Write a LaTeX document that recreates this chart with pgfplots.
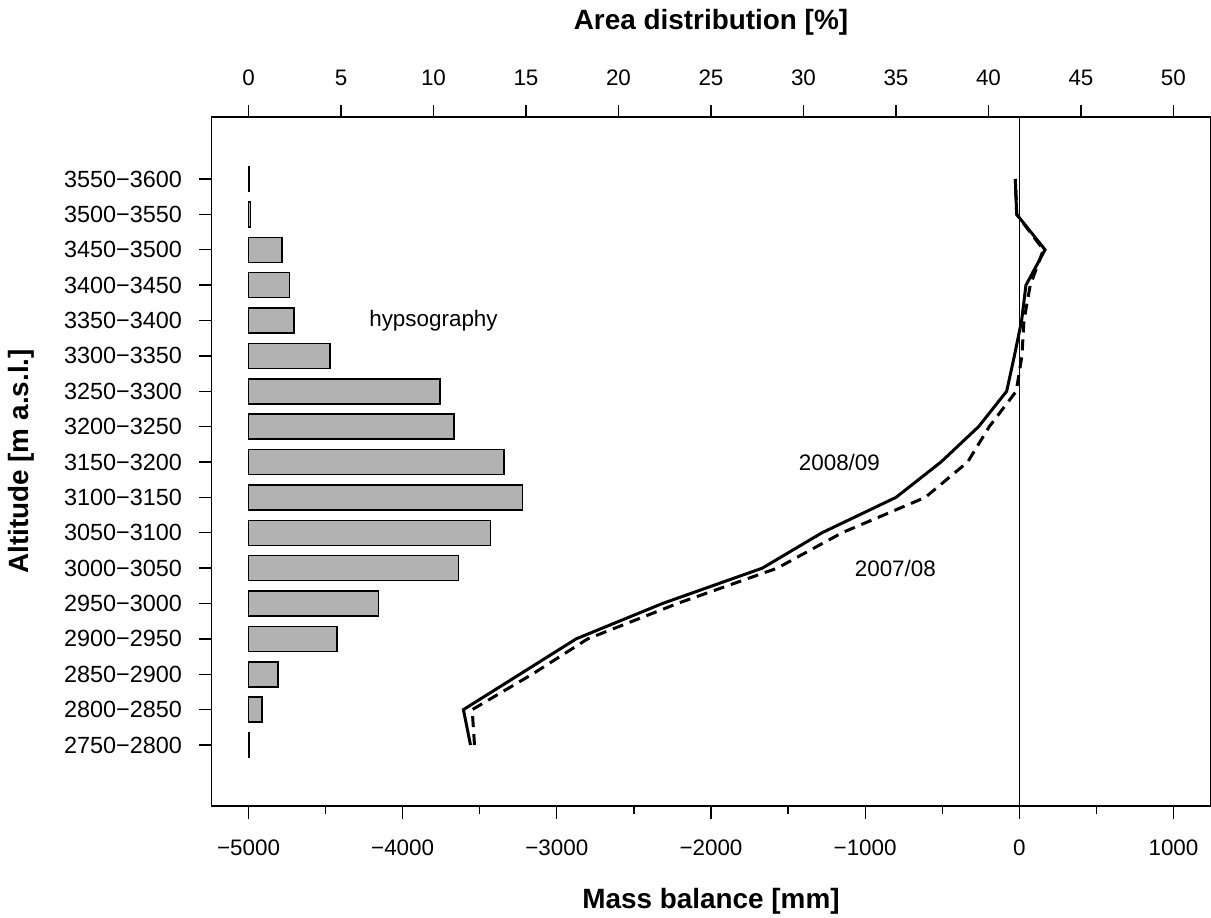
\documentclass[border=0pt]{standalone}
\usepackage{pgfplots}
\pgfplotsset{compat=1.18}
\usepackage{fontspec}
\setmainfont{Liberation Sans}
\definecolor{barGray}{gray}{0.70}
\newcommand{\tickfont}{\fontsize{22.5}{27}\selectfont}
\newcommand{\ytickfont}{\fontsize{23.5}{28}\selectfont}
\newcommand{\labfont}{\fontsize{28}{33}\selectfont\bfseries}
\begin{document}
\begin{tikzpicture}
\useasboundingbox (0,0) rectangle (1211bp,918bp);
% ---------- area distribution (bars, top axis) ----------
\begin{axis}[
  at={(211.5bp,112bp)}, anchor=south west,
  width=999bp, height=689bp, scale only axis,
  xmin=-2, xmax=52, ymin=-1.724, ymax=17.753,
  xbar, bar width=25bp,
  xtick={0,5,...,50},
  xticklabels={0,5,10,15,20,25,30,35,40,45,50},
  xtick pos=top, xticklabel pos=top,
  ytick={0,...,16},
  yticklabels={2750−2800,2800−2850,2850−2900,2900−2950,2950−3000,3000−3050,3050−3100,3100−3150,3150−3200,3200−3250,3250−3300,3300−3350,3350−3400,3400−3450,3450−3500,3500−3550,3550−3600},
  ytick pos=left,
  tick align=outside, major tick length=12bp,
  axis line style={line width=1.3bp},
  every tick/.style={black, line width=1.3bp},
  xticklabel style={font=\tickfont, yshift=16bp},
  yticklabel style={font=\ytickfont, xshift=-14bp},
  xlabel={Area distribution [\%]},
  xlabel style={font=\labfont, at={(axis description cs:0.5,1.138)}, anchor=center},
  ylabel={Altitude [m a.s.l.]},
  ylabel style={font=\labfont, at={(axis description cs:-0.19,0.5)}, anchor=center, rotate=0},
  clip=false,
]
\addplot[fill=barGray, draw=black, line width=1.5bp] table[x=pct, y=idx] {
idx pct
0 0.03
1 0.72
2 1.60
3 4.79
4 7.03
5 11.35
6 13.08
7 14.81
8 13.80
9 11.10
10 10.36
11 4.41
12 2.45
13 2.22
14 1.82
15 0.10
16 0.03
};
\node[font=\tickfont] at (axis cs:10,12) {hypsography};
\end{axis}
% ---------- mass balance (lines, bottom axis) ----------
\begin{axis}[
  at={(211.5bp,112bp)}, anchor=south west,
  width=999bp, height=689bp, scale only axis,
  xmin=-5240, xmax=1240, ymin=-1.724, ymax=17.753,
  axis x line*=bottom, hide y axis,
  xtick={-5000,-4000,-3000,-2000,-1000,0,1000},
  xticklabels={−5000,−4000,−3000,−2000,−1000,0,1000},
  minor xtick={-4500,-3500,-2500,-1500,-500,500},
  tick align=outside, major tick length=13bp, minor tick length=8bp,
  axis line style={line width=1.3bp, -},
  every tick/.style={black, line width=1.3bp},
  xticklabel style={font=\tickfont, yshift=-17bp},
  xlabel={Mass balance [mm]},
  xlabel style={font=\labfont, at={(axis description cs:0.5,-0.138)}, anchor=center},
  clip=false,
]
\addplot[black, line width=1.3bp] coordinates {(0,-1.724) (0,17.753)};
% 2007/08 (dashed)
\addplot[black, line width=3bp, dash pattern=on 11bp off 7bp] table[x=mb, y=idx] {
idx mb
0 -3534
1 -3549
2 -3160
3 -2800
4 -2218
5 -1570
6 -1150
7 -610
8 -335
9 -195
10 -20
11 17
12 30
13 71
14 156
15 -17
16 -26
};
% 2008/09 (solid)
\addplot[black, line width=3bp] table[x=mb, y=idx] {
idx mb
0 -3560
1 -3606
2 -3240
3 -2875
4 -2315
5 -1667
6 -1280
7 -800
8 -508
9 -264
10 -82
11 -32
12 15
13 43
14 167
15 -17
16 -26
};
\node[font=\tickfont] at (axis cs:-1167,8) {2008/09};
\node[font=\tickfont] at (axis cs:-804,5) {2007/08};
\end{axis}
\end{tikzpicture}
\end{document}
